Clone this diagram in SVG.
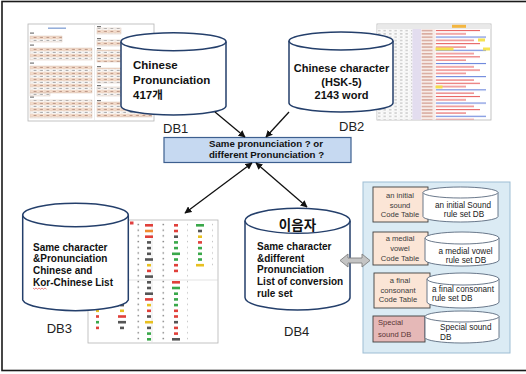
<svg xmlns="http://www.w3.org/2000/svg" width="526" height="374" viewBox="0 0 526 374">
  <style>
    .frame { fill: #ffffff; stroke: #1a1a1a; stroke-width: 1.6; }
    .cyl { fill: #ffffff; stroke: #243f6b; stroke-width: 1.5; }
    .cyl-s { fill: #ffffff; stroke: #5a6a7e; stroke-width: 0.9; }
    .tb { font-family: "Liberation Sans", "Noto Sans CJK KR", sans-serif; font-weight: bold; fill: #111111; }
    .lbl { font-family: "Liberation Sans", sans-serif; font-size: 13px; fill: #222222; }
    .small { font-family: "Liberation Sans", sans-serif; font-size: 7.6px; fill: #3a3a3a; }
    .smallc { font-family: "Liberation Sans", sans-serif; font-size: 8.2px; fill: #1a1a1a; }
    .conn { stroke: #111111; stroke-width: 1.3; fill: none; }
    .code { fill: #fbe5d6; stroke: #3f3f3f; stroke-width: 0.9; }
    .shot { fill: #ffffff; stroke: #b4b4b4; stroke-width: 0.8; }
    .r { fill: #e0403a; } .g { fill: #3aa84a; } .y { fill: #e8c020; } .k { fill: #555555; } .o { fill: #f08a30; }
  </style>
  <defs>
    <marker id="ah" viewBox="0 0 10 10" refX="9" refY="5" markerWidth="7" markerHeight="7" orient="auto-start-reverse" markerUnits="userSpaceOnUse">
      <path d="M0,0 L10,5 L0,10 z" fill="#111111"/>
    </marker>
    <!-- pronunciation chart cells -->
    <pattern id="cells" x="0" y="0" width="6.4" height="6" patternUnits="userSpaceOnUse">
      <rect x="0" y="0" width="6.4" height="3" fill="#fbe3d2" stroke="#d9c2b2" stroke-width="0.35"/>
      <rect x="0" y="3" width="6.4" height="3" fill="#ffffff" stroke="#d9c2b2" stroke-width="0.35"/>
      <rect x="1.5" y="3.9" width="3" height="0.9" fill="#9a9a9a"/>
      <rect x="1.5" y="0.9" width="3" height="0.9" fill="#b08878"/>
    </pattern>
    <!-- spreadsheet grid -->
    <pattern id="xl" x="377" y="29" width="5.5" height="3.3" patternUnits="userSpaceOnUse">
      <rect x="0" y="0" width="5.5" height="3.3" fill="#ffffff" stroke="#dedede" stroke-width="0.3"/>
      <rect x="1" y="1.2" width="2.5" height="0.8" fill="#a0a0a0"/>
    </pattern>
    <pattern id="xlb" x="421" y="29" width="14" height="3.3" patternUnits="userSpaceOnUse">
      <rect x="0.5" y="1.1" width="11" height="1" fill="#c9897a"/>
    </pattern>
    <pattern id="xlr" x="435" y="29" width="56" height="13.2" patternUnits="userSpaceOnUse">
      <rect x="1" y="1" width="44" height="1" fill="#e45050"/>
      <rect x="1" y="4.3" width="30" height="1" fill="#e45050"/>
      <rect x="1" y="7.6" width="50" height="1" fill="#5a78d8"/>
      <rect x="1" y="10.9" width="38" height="1" fill="#e45050"/>
    </pattern>
    <!-- word list dot column -->
    <pattern id="dots" x="137" y="223" width="25" height="5.7" patternUnits="userSpaceOnUse">
      <rect x="0.5" y="0.8" width="1.6" height="1.4" fill="#8a8a8a"/>
    </pattern>
  </defs>

  <!-- outer frame -->
  <rect class="frame" x="2" y="1.5" width="534" height="369"/>

  <!-- pronunciation chart screenshot -->
  <g id="chart-db1">
    <rect class="shot" x="28" y="24" width="126" height="97"/>
    <rect x="48" y="27.5" width="18" height="1.4" fill="#8aa6d6"/>
    <g fill="#777777">
      <rect x="30" y="32.5" width="4" height="1.2"/>
      <rect x="30" y="44.5" width="4" height="1.2"/>
      <rect x="30" y="62.5" width="4" height="1.2"/>
      <rect x="30" y="96.5" width="4" height="1.2"/>
      <rect x="97" y="26" width="4" height="1.2"/>
      <rect x="97" y="38" width="4" height="1.2"/>
      <rect x="97" y="48" width="4" height="1.2"/>
      <rect x="97" y="66" width="4" height="1.2"/>
      <rect x="97" y="85" width="4" height="1.2"/>
      <rect x="97" y="100" width="4" height="1.2"/>
    </g>
    <g fill="url(#cells)" stroke="#d0b8a8" stroke-width="0.4">
      <rect x="30" y="36" width="32" height="6"/>
      <rect x="30" y="48" width="62" height="12"/>
      <rect x="30" y="66" width="62" height="27"/>
      <rect x="30" y="93" width="20" height="3"/>
      <rect x="30" y="100" width="62" height="18"/>
      <rect x="97" y="28" width="24" height="6"/>
      <rect x="97" y="40" width="24" height="6"/>
      <rect x="97" y="50" width="24" height="12"/>
      <rect x="97" y="68" width="24" height="15"/>
      <rect x="97" y="87" width="24" height="9"/>
      <rect x="97" y="102" width="55" height="15"/>
    </g>
    <line x1="94.5" y1="25" x2="94.5" y2="120" stroke="#e0e0e0" stroke-width="0.6"/>
  </g>

  <!-- HSK word spreadsheet screenshot -->
  <g id="sheet-db2">
    <rect class="shot" x="377" y="24" width="114" height="96"/>
    <rect x="377.4" y="24.4" width="113.2" height="4.6" fill="#e9e9e9"/>
    <rect x="452" y="24.8" width="14" height="3" fill="#f3b640"/>
    <rect x="377.4" y="29" width="35" height="90.6" fill="url(#xl)"/>
    <rect x="412.4" y="29" width="9" height="90.6" fill="#e3ddef"/>
    <rect x="421.4" y="29" width="14" height="90.6" fill="#f7ece8"/>
    <rect x="421.4" y="29" width="14" height="90.6" fill="url(#xlb)"/>
    <rect x="435.4" y="29" width="55.2" height="90.6" fill="url(#xlr)"/>
    <g fill="#f5e040" opacity="0.9">
      <rect x="478" y="38.5" width="7" height="3"/>
      <rect x="435.5" y="47.5" width="18" height="3"/>
      <rect x="483" y="47.5" width="7" height="3"/>
      <rect x="435.5" y="85.5" width="7" height="3"/>
    </g>
  </g>

  <!-- same-character word list screenshot -->
  <g id="list-db3">
    <rect class="shot" x="88" y="220" width="130" height="123" stroke="#9a9a9a"/>
    <line x1="152" y1="221" x2="152" y2="342" stroke="#d8d8d8" stroke-width="0.6"/>
    <line x1="88" y1="280" x2="218" y2="280" stroke="#d0d0d0" stroke-width="0.6"/>
    <rect x="130" y="221.5" width="3.5" height="3" fill="#e04040"/>
    <rect x="136" y="223" width="52" height="118" fill="url(#dots)"/>
    <rect x="209" y="223" width="4" height="46" fill="url(#dots)"/>
    <rect x="108" y="298" width="3" height="43" fill="url(#dots)"/>
    <!-- first word column -->
    <rect class="r" x="145" y="224" width="8" height="2.6"/>
    <rect class="o" x="145" y="229.7" width="8" height="2.6"/>
    <rect class="r" x="145" y="235.4" width="8" height="2.6"/>
    <rect class="k" x="147" y="241.1" width="4" height="2.6"/>
    <rect class="k" x="147" y="246.8" width="4" height="2.6"/>
    <rect class="k" x="147" y="252.5" width="4" height="2.6"/>
    <rect class="k" x="145" y="258.2" width="8" height="2.6"/>
    <rect class="y" x="147" y="263.9" width="4" height="2.6"/>
    <rect class="r" x="147" y="269.6" width="4" height="2.6"/>
    <rect class="k" x="145" y="275.3" width="8" height="2.6"/>
    <rect class="k" x="147" y="281" width="4" height="2.6"/>
    <rect class="k" x="147" y="286.7" width="4" height="2.6"/>
    <rect class="k" x="145" y="292.4" width="8" height="2.6"/>
    <rect class="r" x="145" y="298.1" width="8" height="2.6"/>
    <rect class="y" x="147" y="303.8" width="4" height="2.6"/>
    <rect class="r" x="147" y="309.5" width="4" height="2.6"/>
    <rect class="k" x="147" y="315.2" width="4" height="2.6"/>
    <rect class="y" x="145" y="320.9" width="8" height="2.6"/>
    <rect class="k" x="147" y="326.6" width="4" height="2.6"/>
    <rect class="g" x="147" y="332.3" width="4" height="2.6"/>
    <rect class="g" x="147" y="338" width="4" height="2.6"/>
    <!-- second word column -->
    <rect class="r" x="174" y="224" width="4" height="2.6"/>
    <rect class="r" x="174" y="229.7" width="4" height="2.6"/>
    <rect class="k" x="174" y="235.4" width="4" height="2.6"/>
    <rect class="g" x="174" y="241.1" width="4" height="2.6"/>
    <rect class="g" x="174" y="246.8" width="4" height="2.6"/>
    <rect class="g" x="172" y="252.5" width="8" height="2.6"/>
    <rect class="g" x="174" y="258.2" width="4" height="2.6"/>
    <rect class="r" x="174" y="263.9" width="4" height="2.6"/>
    <rect class="r" x="174" y="269.6" width="4" height="2.6"/>
    <rect class="r" x="172" y="281" width="8" height="2.6"/>
    <rect class="g" x="172" y="286.7" width="8" height="2.6"/>
    <rect class="g" x="174" y="292.4" width="4" height="2.6"/>
    <rect class="g" x="174" y="298.1" width="4" height="2.6"/>
    <rect class="g" x="174" y="303.8" width="4" height="2.6"/>
    <rect class="r" x="174" y="309.5" width="4" height="2.6"/>
    <rect class="r" x="174" y="315.2" width="4" height="2.6"/>
    <rect class="k" x="174" y="320.9" width="4" height="2.6"/>
    <rect class="r" x="174" y="326.6" width="4" height="2.6"/>
    <rect class="r" x="174" y="332.3" width="4" height="2.6"/>
    <rect class="k" x="172" y="338" width="8" height="2.6"/>
    <!-- third word column -->
    <rect class="g" x="196" y="224" width="8" height="2.6"/>
    <rect class="k" x="198" y="229.7" width="4" height="2.6"/>
    <rect class="y" x="198" y="235.4" width="4" height="2.6"/>
    <rect class="r" x="198" y="241.1" width="4" height="2.6"/>
    <rect class="g" x="198" y="246.8" width="4" height="2.6"/>
    <rect class="g" x="198" y="252.5" width="4" height="2.6"/>
    <rect class="g" x="198" y="258.2" width="4" height="2.6"/>
    <rect class="y" x="196" y="263.9" width="8" height="2.6"/>
    <!-- left columns, mostly behind DB3 -->
    <rect class="y" x="96" y="303.8" width="3" height="2.6"/>
    <rect class="y" x="96" y="309.5" width="3" height="2.6"/>
    <rect class="r" x="96" y="315.2" width="3" height="2.6"/>
    <rect class="g" x="96" y="320.9" width="3" height="2.6"/>
    <rect class="r" x="96" y="326.6" width="3" height="2.6"/>
    <rect class="k" x="120" y="303.8" width="4" height="2.6"/>
    <rect class="y" x="120" y="309.5" width="4" height="2.6"/>
    <rect class="r" x="118" y="315.2" width="8" height="2.6"/>
    <rect class="k" x="118" y="320.9" width="8" height="2.6"/>
    <rect class="k" x="120" y="326.6" width="4" height="2.6"/>
  </g>

  <!-- DB1 -->
  <g id="db1">
    <path class="cyl" d="M121,41.7 V106 A52.5,9 0 0 0 226,106 V41.7"/>
    <ellipse class="cyl" cx="173.5" cy="41.7" rx="52.5" ry="9"/>
    <text class="tb" font-size="11.5" x="133" y="69">Chinese</text>
    <text class="tb" font-size="11.5" x="133" y="84.3">Pronunciation</text>
    <text class="tb" font-size="11.5" x="133" y="99">417개</text>
    <text class="lbl" x="163" y="133">DB1</text>
  </g>

  <!-- DB2 -->
  <g id="db2">
    <path class="cyl" d="M289,41 V103 A52,9 0 0 0 393,103 V41"/>
    <ellipse class="cyl" cx="341" cy="41" rx="52" ry="9"/>
    <text class="tb" font-size="11" x="341.5" y="72" text-anchor="middle">Chinese character</text>
    <text class="tb" font-size="11" x="341.5" y="85.5" text-anchor="middle">(HSK-5)</text>
    <text class="tb" font-size="11" x="341.5" y="99" text-anchor="middle">2143 word</text>
    <text class="lbl" x="339" y="131">DB2</text>
  </g>

  <!-- decision -->
  <g id="decision">
    <rect x="164" y="137.5" width="187" height="25" fill="#c6d9f1" stroke="#3d5f8f" stroke-width="1.2"/>
    <text class="tb" font-size="9.7" x="266" y="147" text-anchor="middle">Same pronunciation ? or</text>
    <text class="tb" font-size="9.7" x="266.5" y="158" text-anchor="middle">different Pronunciation ?</text>
  </g>

  <!-- DB3 -->
  <g id="db3">
    <path class="cyl" d="M22.7,215 V300 A53,11.7 0 0 0 128.3,300 V215"/>
    <ellipse class="cyl" cx="75.5" cy="215" rx="52.8" ry="11.7"/>
    <text class="tb" font-size="10" x="33" y="250.5">Same character</text>
    <text class="tb" font-size="10" x="33" y="262.2">&amp;Pronunciation</text>
    <text class="tb" font-size="10" x="33" y="273.9">Chinese and</text>
    <text class="tb" font-size="10" x="33" y="285.6">Kor-Chinese List</text>
    <path d="M33,288 l1.5,1.2 l1.5,-1.2 l1.5,1.2 l1.5,-1.2 l1.5,1.2 l1.5,-1.2 l1.5,1.2 l1.5,-1.2 l1.5,1.2" fill="none" stroke="#e03030" stroke-width="0.6"/>
    <text class="lbl" x="46.7" y="332.7">DB3</text>
  </g>

  <!-- DB4 -->
  <g id="db4">
    <path class="cyl" d="M245,220.8 V297.5 A52.5,12.5 0 0 0 350,297.5 V220.8"/>
    <ellipse class="cyl" cx="297.5" cy="220.8" rx="52.5" ry="12.5"/>
    <text class="tb" font-size="13.5" x="297.5" y="229.5" text-anchor="middle">이음자</text>
    <text class="tb" font-size="10" x="257" y="250">Same character</text>
    <text class="tb" font-size="10" x="257" y="261.7">&amp;different</text>
    <text class="tb" font-size="10" x="257" y="273.4">Pronunciation</text>
    <text class="tb" font-size="10" x="257" y="285.1">List of conversion</text>
    <text class="tb" font-size="10" x="257" y="296.8">rule set</text>
    <text class="lbl" x="284" y="335.7">DB4</text>
  </g>

  <!-- rule set panel -->
  <g id="rule-panel">
    <rect x="363" y="182" width="147" height="171" fill="#dbebf4" stroke="#9dbdd4" stroke-width="1"/>
  </g>

  <g id="initial-sound">
    <rect class="code" x="373" y="187" width="55" height="35"/>
    <text class="small" x="400" y="197.7" text-anchor="middle">an initial</text>
    <text class="small" x="400" y="207.7" text-anchor="middle">sound</text>
    <text class="small" x="400" y="217.2" text-anchor="middle">Code Table</text>
    <path class="cyl-s" d="M423,192.5 V216.5 A37.5,5.5 0 0 0 498,216.5 V192.5"/>
    <ellipse class="cyl-s" cx="460.5" cy="192.5" rx="37.5" ry="5.5"/>
    <text class="smallc" x="463" y="208" text-anchor="middle">an initial Sound</text>
    <text class="smallc" x="464" y="217.3" text-anchor="middle">rule set DB</text>
  </g>

  <g id="medial-vowel">
    <rect class="code" x="373" y="232" width="55" height="33"/>
    <text class="small" x="400" y="240.7" text-anchor="middle">a medial</text>
    <text class="small" x="400" y="250.7" text-anchor="middle">vowel</text>
    <text class="small" x="400" y="260.7" text-anchor="middle">Code Table</text>
    <path class="cyl-s" d="M425,238 V260 A37,6 0 0 0 499,260 V238"/>
    <ellipse class="cyl-s" cx="462" cy="238" rx="37" ry="6"/>
    <text class="smallc" x="465.5" y="254" text-anchor="middle">a medial vowel</text>
    <text class="smallc" x="466" y="263.3" text-anchor="middle">rule set DB</text>
  </g>

  <g id="final-consonant">
    <rect class="code" x="374" y="273" width="56" height="35"/>
    <text class="small" x="400" y="283" text-anchor="middle">a final</text>
    <text class="small" x="398" y="293" text-anchor="middle">consonant</text>
    <text class="small" x="398" y="302.3" text-anchor="middle">Code Table</text>
    <path class="cyl-s" d="M427,279 V302 A36,6 0 0 0 499,302 V279"/>
    <ellipse class="cyl-s" cx="463" cy="279" rx="36" ry="6"/>
    <text class="smallc" x="432" y="292">a final consonant</text>
    <text class="smallc" x="432" y="301.3">rule set DB</text>
  </g>

  <g id="special-sound">
    <rect x="373" y="316" width="52" height="26" fill="#e5b8b7" stroke="#3f3f3f" stroke-width="0.9"/>
    <text class="small" x="378" y="325.4" style="fill:#5a3434">Special</text>
    <text class="small" x="378" y="336.7" style="fill:#5a3434">sound DB</text>
    <path class="cyl-s" d="M425,316.5 V337.5 A37,5.5 0 0 0 499,337.5 V316.5"/>
    <ellipse class="cyl-s" cx="462" cy="316.5" rx="37" ry="5.5"/>
    <text class="smallc" x="440" y="329.7">Special sound</text>
    <text class="smallc" x="440" y="339.7">DB</text>
  </g>

  <!-- connectors, drawn last so they sit on top -->
  <g id="connectors">
    <line class="conn" x1="215" y1="112" x2="245" y2="137" marker-end="url(#ah)"/>
    <line class="conn" x1="289" y1="112" x2="266" y2="137" marker-end="url(#ah)"/>
    <line class="conn" x1="252" y1="163" x2="185" y2="213" marker-start="url(#ah)" marker-end="url(#ah)"/>
    <line class="conn" x1="256" y1="163" x2="307" y2="207" marker-start="url(#ah)" marker-end="url(#ah)"/>
    <path d="M340,260.5 L348,254 L348,258 L362,258 L362,254 L370,260.5 L362,267 L362,263 L348,263 L348,267 Z" fill="#c4c4c4" stroke="#808080" stroke-width="0.9"/>
  </g>
</svg>
